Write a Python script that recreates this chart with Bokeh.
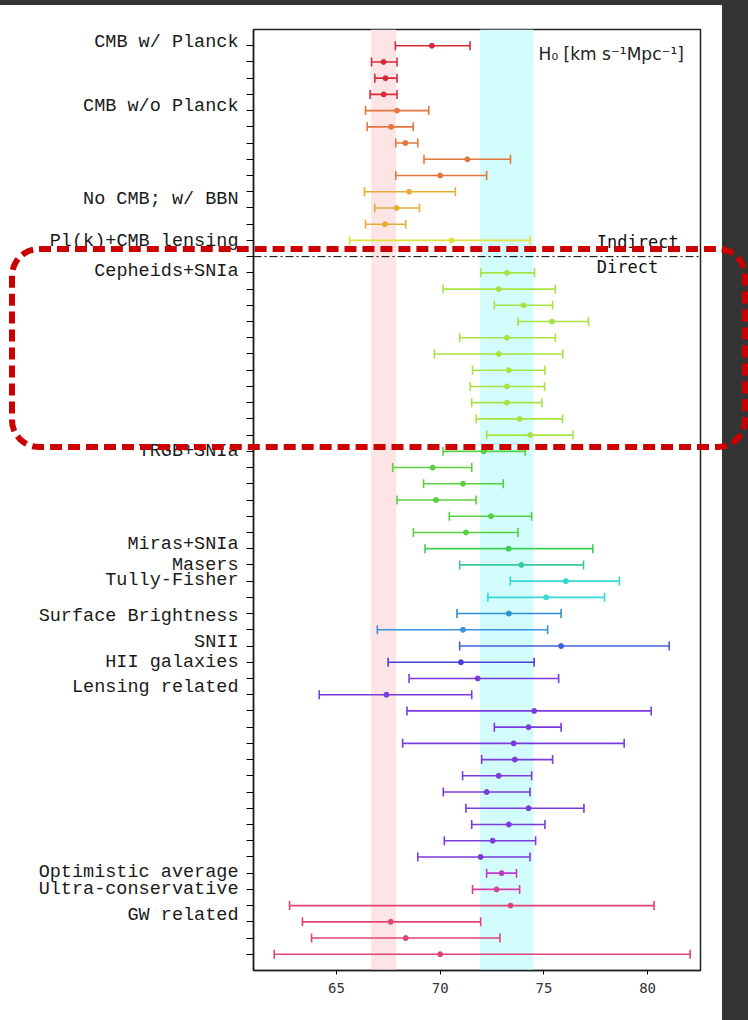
from bokeh.plotting import figure
from bokeh.models import (Range1d, FixedTicker, BoxAnnotation, Span, Label, ColumnDataSource,
                          LinearAxis, Div)
from bokeh.layouts import column
from bokeh.embed import file_html
from bokeh.resources import INLINE

# ---- data (row index counted from the top; row 14 is the Indirect/Direct separator)
row = [1, 2, 3, 4, 5, 6, 7, 8, 9, 10, 11, 12, 13,
       15, 16, 17, 18, 19, 20, 21, 22, 23, 24, 25,
       26, 27, 28, 29, 30, 31, 32, 33, 34, 35, 36, 37, 38, 39,
       40, 41, 42, 43, 44, 45, 46, 47, 48, 49, 50, 51,
       52, 53, 54, 55, 56, 57]
h0 = [69.6, 67.27, 67.36, 67.28, 67.92, 67.63, 68.32, 71.31, 70.0, 68.5, 67.9, 67.34, 70.55,
      73.22, 72.82, 74.02, 75.39, 73.22, 72.82, 73.31, 73.22, 73.22, 73.83, 74.34,
      72.1, 69.64, 71.1, 69.8, 72.45, 71.24, 73.3, 73.91, 76.06, 75.11, 73.31, 71.1, 75.83, 71.0,
      71.81, 67.41, 74.53, 74.26, 73.54, 73.6, 72.82, 72.24, 74.26, 73.31, 72.53, 71.95,
      72.96, 72.72, 73.39, 67.62, 68.34, 70.0]
low = [67.84, 66.69, 66.85, 66.62, 66.4, 66.48, 67.86, 69.22, 67.86, 66.35, 66.85, 66.4, 65.63,
       71.95, 70.14, 72.61, 73.75, 70.94, 69.72, 71.56, 71.45, 71.52, 71.74, 72.24,
       70.14, 67.71, 69.2, 67.92, 70.44, 68.71, 69.27, 70.94, 73.38, 72.3, 70.81, 66.97, 70.94, 67.49,
       68.5, 64.17, 68.4, 72.61, 68.19, 72.0, 71.08, 70.15, 71.24, 71.52, 70.2, 68.92,
       72.24, 71.56, 62.74, 63.36, 63.8, 62.0]
high = [71.44, 67.92, 67.92, 67.92, 69.45, 68.7, 68.92, 73.39, 72.24, 70.73, 69.0, 68.34, 74.33,
        74.55, 75.55, 75.42, 77.15, 75.55, 75.91, 75.05, 75.03, 74.9, 75.9, 76.4,
        74.1, 71.52, 73.04, 71.73, 74.41, 73.75, 77.36, 76.91, 78.64, 77.92, 75.83, 75.18, 81.04, 74.53,
        75.71, 71.52, 80.17, 75.83, 78.87, 75.42, 74.41, 74.33, 76.93, 75.05, 74.6, 74.33,
        73.68, 73.83, 80.31, 71.95, 72.88, 82.05]
colors = (["#d82a3a"] * 4 + ["#e3773c"] * 5 + ["#e6ad34"] * 3 + ["#dfe23e"] +
          ["#a8e344"] * 11 + ["#58d040"] * 6 + ["#3ccf55", "#3cc8a0", "#36d8d2", "#36d8d8",
          "#2f8fd6", "#3a92e0", "#4262da", "#4b41da"] + ["#7a3ade"] * 12 +
          ["#c23ccc", "#d3409e"] + ["#df4479"] * 4)

group_labels = ["CMB w/ Planck", "CMB w/o Planck", "No CMB; w/ BBN", "Pl(k)+CMB lensing",
                "Cepheids+SNIa", "TRGB+SNIa", "Miras+SNIa", "Masers", "Tully-Fisher",
                "Surface Brightness", "SNII", "HII galaxies", "Lensing related",
                "Optimistic average", "Ultra-conservative", "GW related"]
label_rows = [0.80, 4.74, 10.45, 13.08, 14.93, 26.01, 31.75, 33.01, 33.96,
              36.16, 37.8, 38.99, 40.54, 51.97, 53.01, 54.6]
x_ticks = [65, 70, 75, 80]
planck_band = (66.67, 67.87)
shoes_band = (71.93, 74.5)
separator_row = 14

src = ColumnDataSource(dict(row=row, h0=h0, low=low, high=high, color=colors))

p = figure(width=748, height=1020, output_backend="svg", toolbar_location=None,
           x_range=Range1d(61.0, 82.55), y_range=Range1d(58, 0),
           min_border_left=253, min_border_right=48, min_border_top=29, min_border_bottom=50)
p.background_fill_color = "white"
p.border_fill_color = "white"
p.outline_line_color = "#222222"
p.outline_line_width = 1.5
p.grid.visible = False

# shaded bands
p.add_layout(BoxAnnotation(left=planck_band[0], right=planck_band[1], fill_color="#fde5e5",
                           fill_alpha=1.0, line_alpha=0, level="underlay"))
p.add_layout(BoxAnnotation(left=shoes_band[0], right=shoes_band[1], fill_color="#d3fcfc",
                           fill_alpha=1.0, line_alpha=0, level="underlay"))

# error bars
p.segment(x0="low", y0="row", x1="high", y1="row", line_color="color", line_width=1.6, source=src)
p.scatter(x="low", y="row", marker="dash", angle=1.5708, size=9, line_color="color",
          line_width=1.6, source=src)
p.scatter(x="high", y="row", marker="dash", angle=1.5708, size=9, line_color="color",
          line_width=1.6, source=src)
p.scatter(x="h0", y="row", marker="circle", size=5, fill_color="color", line_color="color",
          source=src)

# separator
p.add_layout(Span(location=separator_row, dimension="width", line_color="black",
                  line_width=1, line_dash="8 3 2 3"))
p.add_layout(Label(x=77.55, y=13.12, text="Indirect", text_align="left", text_baseline="middle",
                   text_font="DejaVu Sans Mono", text_font_size="17px", text_color="#111111"))
p.add_layout(Label(x=77.55, y=14.66, text="Direct", text_align="left", text_baseline="middle",
                   text_font="DejaVu Sans Mono", text_font_size="17px", text_color="#111111"))
p.add_layout(Label(x=81.75, y=1.49, text="H\u2080 [km s\u207b\u00b9Mpc\u207b\u00b9]",
                   text_align="right", text_baseline="middle",
                   text_font="DejaVu Sans", text_font_size="17px", text_color="#222222"))

# axes
p.xaxis.ticker = FixedTicker(ticks=x_ticks)
p.xaxis.minor_tick_line_color = None
p.xaxis.major_tick_out = 4
p.xaxis.major_tick_in = 0
p.xaxis.major_label_standoff = 8
p.xaxis.major_label_text_font = "DejaVu Sans Mono"
p.xaxis.major_label_text_font_size = "14px"
p.xaxis.major_label_text_color = "#333333"
p.xaxis.axis_line_width = 1.5
p.xaxis.axis_line_color = "#222222"

all_rows = list(range(1, 58))
p.yaxis.ticker = FixedTicker(ticks=all_rows)
p.yaxis.major_label_overrides = {r: "" for r in all_rows}
p.yaxis.major_label_standoff = 0
p.yaxis.minor_tick_line_color = None
p.yaxis.major_tick_out = 7
p.yaxis.major_tick_in = 0
p.yaxis.major_tick_line_width = 1.2
p.yaxis.axis_line_width = 1.5
p.yaxis.axis_line_color = "#222222"

label_axis = LinearAxis(ticker=FixedTicker(ticks=label_rows),
                        major_label_overrides={r: t for r, t in zip(label_rows, group_labels)},
                        major_tick_out=0, major_tick_in=0, minor_tick_out=0, minor_tick_in=0,
                        axis_line_color=None, major_tick_line_color=None,
                        minor_tick_line_color=None, major_label_standoff=8,
                        major_label_text_font="Liberation Mono",
                        major_label_text_font_size="18.5px", major_label_text_color="#1a1a1a")
p.add_layout(label_axis, "left")

# slide overlay: dark strips and red dashed highlight box
right_strip = Div(text="", width=26, height=1020,
                  styles={"position": "absolute", "left": "717px", "top": "-5px",
                          "background-color": "#343434"})
top_strip = Div(text="", width=727, height=5,
                styles={"position": "absolute", "left": "-5px", "top": "-5px",
                        "background-color": "#343434"})
red_box = Div(text="", width=739, height=204,
              styles={"position": "absolute", "left": "4px", "top": "241px",
                      "box-sizing": "border-box", "border": "6px dashed #cc0000",
                      "border-radius": "30px", "pointer-events": "none"})

layout = column(p, right_strip, top_strip, red_box)
open("out.html", "w").write(file_html(layout, INLINE))
